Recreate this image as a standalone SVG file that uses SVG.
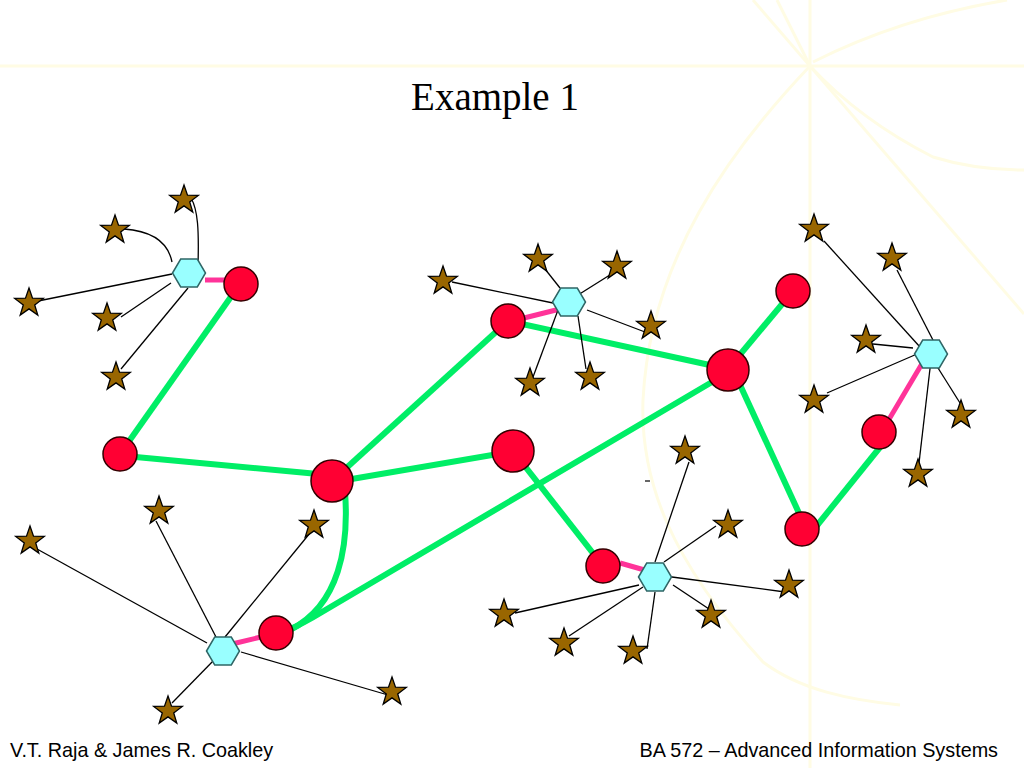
<svg xmlns="http://www.w3.org/2000/svg" xmlns:xlink="http://www.w3.org/1999/xlink" width="1024" height="768" viewBox="0 0 1024 768">
<style>
.bg{fill:none;stroke:#FFFCE4;stroke-width:3}
.g{fill:none;stroke:#00EE66;stroke-width:6;stroke-linecap:butt}
.p{fill:none;stroke:#FF3399;stroke-width:5}
.t{fill:none;stroke:#000;stroke-width:1.3}
.red{fill:#FF0033;stroke:#330000;stroke-width:1.5}
.hex{fill:#99FFFF;stroke:#2F6666;stroke-width:1.5}
.star{fill:#996600;stroke:#000;stroke-width:1.3;stroke-linejoin:miter}
.title{font-family:"Liberation Serif","Times New Roman",serif;font-size:39px;fill:#000}
.foot{font-family:"Liberation Sans",Arial,sans-serif;font-size:19.8px;fill:#000}
</style>
<defs>
<path id="star" d="M0,-15 L3.5,-4.8 L14.3,-4.6 L5.7,1.9 L8.8,12.1 L0,5.9 L-8.8,12.1 L-5.7,1.9 L-14.3,-4.6 L-3.5,-4.8 Z"/>
<path id="hexa" d="M-16.5,0 L-8.3,-14 L8.3,-14 L16.5,0 L8.3,14 L-8.3,14 Z"/>
</defs>
<rect width="1024" height="768" fill="#FFFFFF"/>
<g id="background">
<line class="bg" x1="0" y1="66" x2="1024" y2="66"/>
<line class="bg" x1="810" y1="0" x2="810" y2="768"/>
<line class="bg" x1="753" y1="0" x2="1024" y2="314"/>
<line class="bg" x1="777" y1="0" x2="810" y2="66"/>
<path class="bg" d="M813,62 Q900,18 1007,0"/>
<path class="bg" d="M810,66 Q860,120 933,157 Q975,170 1024,170"/>
<path class="bg" d="M810,66 C730,150 650,260 643,400 C640,480 670,560 763,662 C800,690 850,700 900,705"/>
</g>
<g id="title"><text class="title" x="495" y="110" text-anchor="middle">Example 1</text></g>
<g id="connectors">
<line class="g" x1="240" y1="284" x2="120" y2="454"/>
<line class="g" x1="125" y1="456" x2="318" y2="474"/>
<line class="g" x1="332" y1="481" x2="508" y2="321"/>
<line class="g" x1="340" y1="481" x2="510" y2="452"/>
<line class="g" x1="508" y1="321" x2="728" y2="369"/>
<line class="g" x1="728" y1="369" x2="793" y2="291"/>
<line class="g" x1="735" y1="374" x2="804" y2="524"/>
<line class="g" x1="815" y1="528" x2="881" y2="446"/>
<line class="g" x1="513" y1="451" x2="603" y2="566"/>
<path class="g" d="M712,382 L322,612 Q304,623 288,630"/>
<path class="g" d="M345,492 C349,545 340,605 290,630"/>
<line class="p" x1="205" y1="280" x2="226" y2="280"/>
<line class="p" x1="524" y1="318" x2="560" y2="309"/>
<line class="p" x1="923" y1="362" x2="888" y2="421"/>
<line class="p" x1="620" y1="563" x2="648" y2="571"/>
<line class="p" x1="232" y1="644" x2="261" y2="637"/>
<path class="t" d="M172,262 Q166,232 124,229"/>
<path class="t" d="M198,266 C199,230 198,210 191,198"/>
<line class="t" x1="172" y1="274" x2="38" y2="301"/>
<line class="t" x1="171" y1="283" x2="121" y2="317"/>
<line class="t" x1="188" y1="288" x2="121" y2="369"/>
<line class="t" x1="452" y1="282" x2="553" y2="303"/>
<line class="t" x1="545" y1="269" x2="560" y2="288"/>
<line class="t" x1="613" y1="273" x2="578" y2="295"/>
<line class="t" x1="587" y1="310" x2="645" y2="332"/>
<line class="t" x1="558" y1="310" x2="533" y2="377"/>
<line class="t" x1="578" y1="316" x2="586" y2="369"/>
<line class="t" x1="824" y1="241" x2="920" y2="347"/>
<line class="t" x1="897" y1="270" x2="935" y2="344"/>
<line class="t" x1="873" y1="344" x2="913" y2="348"/>
<line class="t" x1="827" y1="393" x2="917" y2="354"/>
<line class="t" x1="933" y1="360" x2="960" y2="403"/>
<line class="t" x1="931" y1="360" x2="919" y2="463"/>
<line class="t" x1="655" y1="562" x2="689" y2="462"/>
<line class="t" x1="664" y1="562" x2="716" y2="526"/>
<line class="t" x1="672" y1="577" x2="785" y2="592"/>
<line class="t" x1="673" y1="585" x2="715" y2="613"/>
<line class="t" x1="639" y1="585" x2="515" y2="613"/>
<line class="t" x1="643" y1="587" x2="569" y2="636"/>
<line class="t" x1="655" y1="592" x2="647" y2="649"/>
<line class="t" x1="37" y1="549" x2="207" y2="643"/>
<line class="t" x1="156" y1="521" x2="216" y2="637"/>
<line class="t" x1="310" y1="533" x2="225" y2="637"/>
<line class="t" x1="241" y1="652" x2="388" y2="695"/>
<line class="t" x1="215" y1="659" x2="172" y2="703"/>
<line x1="645" y1="481" x2="650" y2="481" stroke="#000" stroke-width="1.2"/>
</g>
<g id="n-r1"><circle class="red" cx="241" cy="284" r="17"/></g>
<g id="n-r2"><circle class="red" cx="120" cy="454" r="17"/></g>
<g id="n-r3"><circle class="red" cx="332" cy="481" r="21"/></g>
<g id="n-r4"><circle class="red" cx="508" cy="321" r="17"/></g>
<g id="n-r5"><circle class="red" cx="513" cy="451" r="21"/></g>
<g id="n-r6"><circle class="red" cx="728" cy="370" r="21"/></g>
<g id="n-r7"><circle class="red" cx="793" cy="291" r="17"/></g>
<g id="n-r8"><circle class="red" cx="879" cy="432" r="17"/></g>
<g id="n-r9"><circle class="red" cx="802" cy="529" r="17"/></g>
<g id="n-r10"><circle class="red" cx="603" cy="566" r="17"/></g>
<g id="n-r11"><circle class="red" cx="276" cy="633" r="17"/></g>
<g id="n-h1"><use xlink:href="#hexa" class="hex" x="189" y="273"/></g>
<g id="n-h2"><use xlink:href="#hexa" class="hex" x="569" y="302"/></g>
<g id="n-h3"><use xlink:href="#hexa" class="hex" x="931" y="354"/></g>
<g id="n-h4"><use xlink:href="#hexa" class="hex" x="655" y="577"/></g>
<g id="n-h5"><use xlink:href="#hexa" class="hex" x="223" y="651"/></g>
<g id="stars">
<g id="s1"><use xlink:href="#star" class="star" x="184" y="200"/></g>
<g id="s2"><use xlink:href="#star" class="star" x="115" y="230"/></g>
<g id="s3"><use xlink:href="#star" class="star" x="29" y="303"/></g>
<g id="s4"><use xlink:href="#star" class="star" x="107" y="318"/></g>
<g id="s5"><use xlink:href="#star" class="star" x="116" y="377"/></g>
<g id="s6"><use xlink:href="#star" class="star" x="443" y="281"/></g>
<g id="s7"><use xlink:href="#star" class="star" x="538" y="259"/></g>
<g id="s8"><use xlink:href="#star" class="star" x="617" y="266"/></g>
<g id="s9"><use xlink:href="#star" class="star" x="651" y="326"/></g>
<g id="s10"><use xlink:href="#star" class="star" x="530" y="383"/></g>
<g id="s11"><use xlink:href="#star" class="star" x="590" y="377"/></g>
<g id="s12"><use xlink:href="#star" class="star" x="814" y="229"/></g>
<g id="s13"><use xlink:href="#star" class="star" x="892" y="258"/></g>
<g id="s14"><use xlink:href="#star" class="star" x="866" y="340"/></g>
<g id="s15"><use xlink:href="#star" class="star" x="814" y="400"/></g>
<g id="s16"><use xlink:href="#star" class="star" x="961" y="415"/></g>
<g id="s17"><use xlink:href="#star" class="star" x="918" y="474"/></g>
<g id="s18"><use xlink:href="#star" class="star" x="685" y="451"/></g>
<g id="s19"><use xlink:href="#star" class="star" x="728" y="525"/></g>
<g id="s20"><use xlink:href="#star" class="star" x="789" y="585"/></g>
<g id="s21"><use xlink:href="#star" class="star" x="711" y="615"/></g>
<g id="s22"><use xlink:href="#star" class="star" x="504" y="614"/></g>
<g id="s23"><use xlink:href="#star" class="star" x="564" y="643"/></g>
<g id="s24"><use xlink:href="#star" class="star" x="633" y="651"/></g>
<g id="s25"><use xlink:href="#star" class="star" x="30" y="541"/></g>
<g id="s26"><use xlink:href="#star" class="star" x="159" y="511"/></g>
<g id="s27"><use xlink:href="#star" class="star" x="314" y="525"/></g>
<g id="s28"><use xlink:href="#star" class="star" x="392" y="692"/></g>
<g id="s29"><use xlink:href="#star" class="star" x="168" y="711"/></g>
</g>
<g id="footer">
<text class="foot" x="10" y="757">V.T. Raja &amp; James R. Coakley</text>
<text class="foot" x="998" y="757" text-anchor="end">BA 572 – Advanced Information Systems</text>
</g>
</svg>
